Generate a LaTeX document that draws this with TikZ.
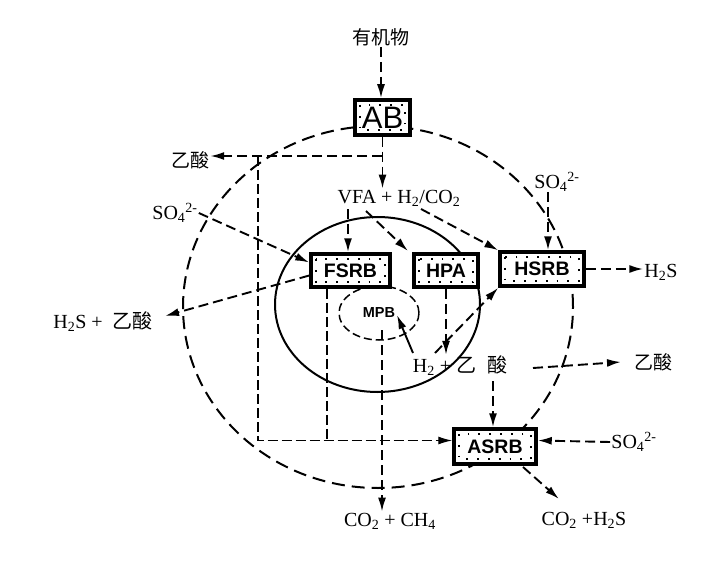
\documentclass[tikz,border=0pt]{standalone}
\usepackage{fontspec}
\setmainfont{Liberation Serif}
\newfontfamily\cjk{Noto Sans CJK SC}
\newfontfamily\sansf{Liberation Sans}
\usetikzlibrary{arrows.meta,shapes.geometric}
\newcommand\tsub[1]{\textsubscript{#1}}
\begin{document}
\begin{tikzpicture}[x=1pt,y=-1pt,
  txt/.style={font=\fontsize{20}{22}\selectfont, inner sep=1pt},
  ctxt/.style={font=\fontsize{19}{22}\selectfont\cjk, inner sep=1pt},
  sbox/.style={draw, line width=3.5pt, fill=white, inner sep=0pt,
    font=\fontsize{19.5}{22}\selectfont\sansf\bfseries,
    path picture={\draw[line width=1.8pt, dash pattern=on 1.8pt off 9pt]
      ([shift={(5pt,-5pt)}]path picture bounding box.north west) rectangle
      ([shift={(-5pt,5pt)}]path picture bounding box.south east);}},
  tip/.style={-{Latex[length=14pt,width=8pt]}},
  darr/.style={tip, line width=1.9pt, dash pattern=on 10pt off 5pt},
  sarr/.style={tip, line width=1.9pt},
  tdash/.style={line width=1.2pt, dash pattern=on 10pt off 4pt},
  tdarr/.style={tip, tdash},
  bigdash/.style={line width=2pt, dash pattern=on 13pt off 7pt}]
\useasboundingbox (0,0) rectangle (709,580);
% ellipses
\draw[bigdash] (378,307) ellipse [x radius=195pt, y radius=181pt];
\draw[line width=2pt] (377.5,304.5) ellipse [x radius=102.5pt, y radius=87.5pt];
% text nodes
\node[ctxt] (org) at (381,37) {有机物};
\node[txt] (vfa) at (399,198) {VFA + H\tsub{2}/CO\tsub{2}};
\node[ctxt] (ac1) at (190,160) {乙酸};
\node[txt] (so1) at (175,213) {SO\tsub{4}\textsuperscript{2-}};
\node[txt] (h2sac) at (103,322) {H\tsub{2}S +\ \ {\cjk 乙酸}};
\node[txt] (so2) at (557,182) {SO\tsub{4}\textsuperscript{2-}};
\node[txt] (h2s) at (661,272) {H\tsub{2}S};
\node[txt] (hac) at (460,366) {H\tsub{2} + {\cjk 乙\hspace{11pt}酸}};
\node[ctxt] (ac3) at (653,362) {乙酸};
\node[txt] (so3) at (634,442) {SO\tsub{4}\textsuperscript{2-}};
\node[txt] (co2ch4) at (390,521) {CO\tsub{2} + CH\tsub{4}};
\node[txt] (co2h2s) at (584,520) {CO\tsub{2} +H\tsub{2}S};
% coordinates
\coordinate (j1) at (382,156);
\coordinate (k1) at (258,156);
\coordinate (k2) at (327,440.5);
\coordinate (v1) at (348,209);
\coordinate (v2) at (366,211);
\coordinate (v2e) at (408,251);
\coordinate (v3) at (421,209);
\coordinate (t1) at (165,316);
\coordinate (s2) at (548,192);
\coordinate (h1) at (413,353);
\coordinate (m1) at (397,315);
\coordinate (p1) at (435,353);
\coordinate (a1) at (533,368);
\coordinate (a1e) at (621,362);
\coordinate (a2) at (493,381);
\coordinate (m2) at (382,330);
\coordinate (c1) at (523,467);
\coordinate (c1e) at (559,499);
% boxes
\node[sbox, minimum width=55pt, minimum height=35pt, font=\fontsize{31}{32}\selectfont\sansf] (AB) at (382.5,117.5) {AB};
\node[sbox, minimum width=79pt, minimum height=33pt] (FSRB) at (350.5,270.5) {FSRB};
\node[sbox, minimum width=64pt, minimum height=33pt] (HPA) at (446,270.5) {HPA};
\node[sbox, minimum width=84pt, minimum height=34pt] (HSRB) at (542,269) {HSRB};
\node[sbox, minimum width=82pt, minimum height=35pt] (ASRB) at (495,446.5) {ASRB};
\node[draw, ellipse, line width=1.5pt, dash pattern=on 8pt off 4pt, minimum width=80pt, minimum height=54pt, inner sep=0pt, font=\fontsize{14.5}{16}\selectfont\sansf\bfseries] (MPB) at (379,313) {MPB};
% connectors
\draw[tdarr] (k1) |- ([yshift=6pt]ASRB.west);
\draw[darr] (org.south) -- (org.south |- AB.north);
\draw[darr] (AB.south) -- (AB.south |- vfa.north);
\draw[darr] (j1) -- (j1 -| ac1.east);
\draw[tdash] (FSRB.south -| k2) -- (k2);
\draw[darr] (v1) -- (v1 |- FSRB.north);
\draw[darr] (v2) -- (v2e);
\draw[darr] (v3) -- (HSRB.north west);
\draw[darr] (so1.east) -- ([yshift=8pt]FSRB.west);
\draw[darr] ([yshift=-5pt]FSRB.west) -- (t1);
\draw[darr] (s2) -- (s2 |- HSRB.north);
\draw[darr] (HSRB.east) -- (HSRB.east -| h2s.west);
\draw[darr] (HPA.south) -- (HPA.south |- hac.north);
\draw[sarr] (h1) -- (m1);
\draw[darr] (p1) -- (HSRB.south west);
\draw[darr] (a1) -- (a1e);
\draw[darr] (a2) -- (a2 |- ASRB.north);
\draw[darr] (m2) -- (m2 |- co2ch4.north);
\draw[darr] (c1) -- (c1e);
\draw[darr] (so3.west) -- ([yshift=6pt]ASRB.east);
\end{tikzpicture}
\end{document}
